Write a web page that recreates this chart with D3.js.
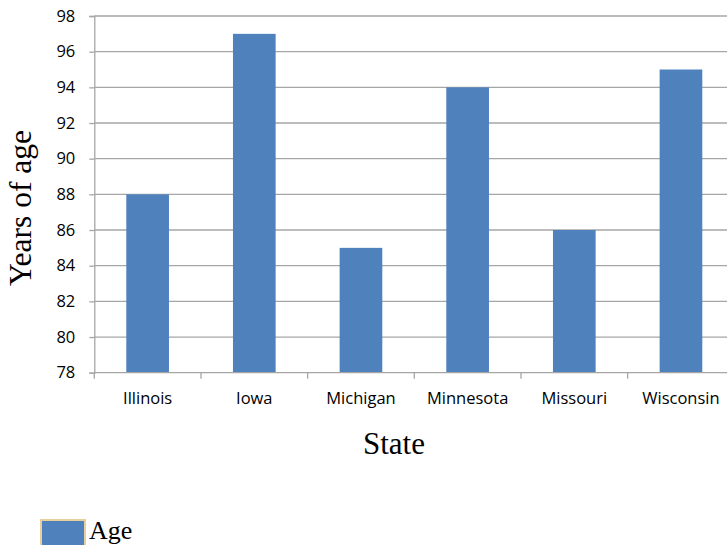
<!DOCTYPE html>
<html>
<head>
<meta charset="utf-8">
<script src="https://cdn.jsdelivr.net/npm/d3@7"></script>
<style>
html,body{margin:0;padding:0;background:#fff;}
svg{display:block;}
</style>
</head>
<body>
<script>
const states = ["Illinois","Iowa","Michigan","Minnesota","Missouri","Wisconsin"];
const ages = [88, 97, 85, 94, 86, 95];
const yTicks = [78,80,82,84,86,88,90,92,94,96,98];
const seriesName = "Age";
const xTitle = "State";
const yTitle = "Years of age";

const W = 727, H = 545;
const pLeft = 94.3, pRight = 734.3, pTop = 16, pBottom = 372.7;

const svg = d3.select("body").append("svg").attr("width", W).attr("height", H);

const x = d3.scaleBand().domain(states).range([pLeft, pRight]).paddingInner(0.6).paddingOuter(0.3);
const y = d3.scaleLinear().domain([78, 98]).range([pBottom, pTop]);

const grid = "#a6a6a6";

// gridlines
svg.append("g").selectAll("line").data(yTicks.slice(1)).join("line")
  .attr("x1", pLeft).attr("x2", pRight)
  .attr("y1", d => y(d)).attr("y2", d => y(d))
  .attr("stroke", grid).attr("stroke-width", 1.3);

// bars
svg.append("g").selectAll("rect").data(states).join("rect")
  .attr("x", d => x(d)).attr("width", x.bandwidth())
  .attr("y", (d,i) => y(ages[i])).attr("height", (d,i) => pBottom - y(ages[i]))
  .attr("fill", "#4f81bd");

// y axis
const yAxis = svg.append("g").attr("transform", `translate(${pLeft},0)`)
  .call(d3.axisLeft(y).tickValues(yTicks).tickSize(5).tickPadding(14).tickFormat(d3.format("d")));
yAxis.select(".domain").attr("stroke", grid).attr("stroke-width", 1.3);
yAxis.selectAll(".tick line").attr("stroke", grid).attr("stroke-width", 1.3);
yAxis.selectAll(".tick text").attr("font-family", "'Open Sans', sans-serif").attr("font-size", 16.5).attr("fill", "#000");

// x axis
const bounds = states.map(s => x(s) - x.step()*x.paddingInner()/2).concat([pRight]);
const xAxisG = svg.append("g");
xAxisG.append("line").attr("x1", pLeft).attr("x2", pRight).attr("y1", pBottom).attr("y2", pBottom)
  .attr("stroke", grid).attr("stroke-width", 1.3);
xAxisG.selectAll("line.tk").data(bounds).join("line").attr("class","tk")
  .attr("x1", d => d).attr("x2", d => d).attr("y1", pBottom).attr("y2", pBottom + 6)
  .attr("stroke", grid).attr("stroke-width", 1.3);
xAxisG.selectAll("text").data(states).join("text")
  .attr("x", d => x(d) + x.bandwidth()/2).attr("y", 404)
  .attr("text-anchor", "middle")
  .attr("font-family", "'Open Sans', sans-serif").attr("font-size", 16.5).attr("fill", "#000")
  .text(d => d);

// titles
svg.append("text").attr("x", 394).attr("y", 454).attr("text-anchor", "middle")
  .attr("font-family", "'Liberation Serif', 'Times New Roman', serif").attr("font-size", 31).attr("fill", "#000")
  .text(xTitle);
svg.append("text").attr("transform", "translate(31,208) rotate(-90)").attr("text-anchor", "middle")
  .attr("font-family", "'Liberation Serif', 'Times New Roman', serif").attr("font-size", 31.5).attr("fill", "#000")
  .text(yTitle);

// legend
svg.append("rect").attr("x", 41).attr("y", 520).attr("width", 44).attr("height", 28)
  .attr("fill", "#4f81bd").attr("stroke", "#e8cfa0").attr("stroke-width", 2);
svg.append("text").attr("x", 89).attr("y", 539)
  .attr("font-family", "'Liberation Serif', 'Times New Roman', serif").attr("font-size", 26).attr("fill", "#000")
  .text(seriesName);
</script>
</body>
</html>
